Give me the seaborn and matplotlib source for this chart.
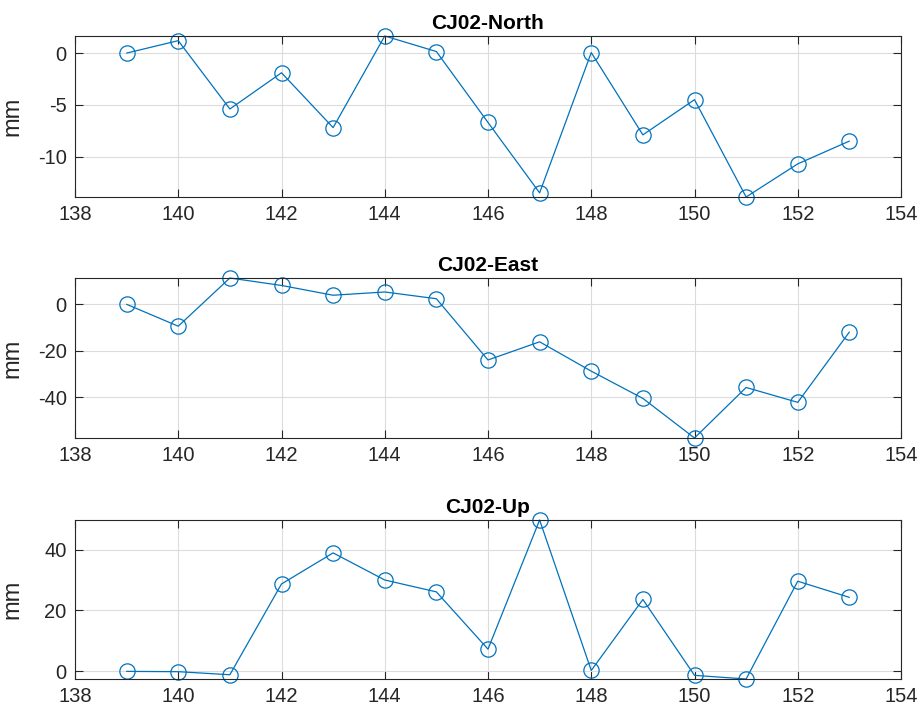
import matplotlib
matplotlib.use("Agg")
import matplotlib.pyplot as plt
import seaborn as sns
import pandas as pd

days = [139, 140, 141, 142, 143, 144, 145, 146, 147, 148, 149, 150, 151, 152, 153]
north = [0.0, 1.2, -5.4, -1.9, -7.2, 1.65, 0.15, -6.7, -13.5, 0.05, -7.9, -4.5, -13.9, -10.7, -8.5]
east = [0.0, -9.4, 11.3, 8.1, 3.9, 5.3, 2.4, -23.9, -16.1, -28.7, -40.4, -57.4, -35.7, -42.1, -11.9]
up = [0.0, -0.1, -1.1, 28.7, 38.9, 30.0, 26.1, 7.3, 49.7, 0.3, 23.6, -1.3, -2.5, 29.6, 24.3]

titles = ["CJ02-North", "CJ02-East", "CJ02-Up"]
series = [north, east, up]
yticks = [[-10, -5, 0], [-40, -20, 0], [0, 20, 40]]
xticks = [138, 140, 142, 144, 146, 148, 150, 152, 154]
ylabel = "mm"

sns.set_style("white")
plt.rcParams["font.family"] = ["Liberation Sans", "DejaVu Sans"]
plt.rcParams["axes.unicode_minus"] = False

W, H = 923, 713
fig = plt.figure(figsize=(W / 100, H / 100), dpi=100)

boxes = [(36, 197), (278, 438), (520, 679)]
left_px, right_px = 75, 901
line_color = "#0072BD"
axis_color = "#262626"

for (top, bot), title, vals, yt in zip(boxes, titles, series, yticks):
    ax = fig.add_axes([left_px / W, 1 - bot / H, (right_px - left_px) / W, (bot - top) / H])
    df = pd.DataFrame({"day": days, "val": vals})
    sns.lineplot(data=df, x="day", y="val", ax=ax, color=line_color, linewidth=0.9,
                 marker="o", markersize=11, markerfacecolor="none",
                 markeredgecolor=line_color, markeredgewidth=0.9, sort=False, clip_on=False)
    ax.set_xlim(138, 154)
    ax.set_ylim(min(vals), max(vals))
    ax.set_xticks(xticks)
    ax.set_yticks(yt)
    ax.grid(True, color="#dcdcdc", linewidth=0.8)
    ax.set_axisbelow(True)
    for sp in ax.spines.values():
        sp.set_color(axis_color)
        sp.set_linewidth(0.8)
        sp.set_visible(True)
    ax.tick_params(direction="in", length=6, width=0.8, colors=axis_color,
                   labelsize=14.5, top=True, right=True, bottom=True, left=True, pad=6)
    for lab in ax.get_xticklabels() + ax.get_yticklabels():
        lab.set_color(axis_color)
    ax.set_xlabel("")
    ax.set_ylabel(ylabel, fontsize=17, color=axis_color)
    ax.yaxis.set_label_coords(-0.062, 0.5)
    ax.set_title(title, fontsize=15, fontweight="bold", color="#000000", pad=5)

fig.savefig("out.png", dpi=100)
